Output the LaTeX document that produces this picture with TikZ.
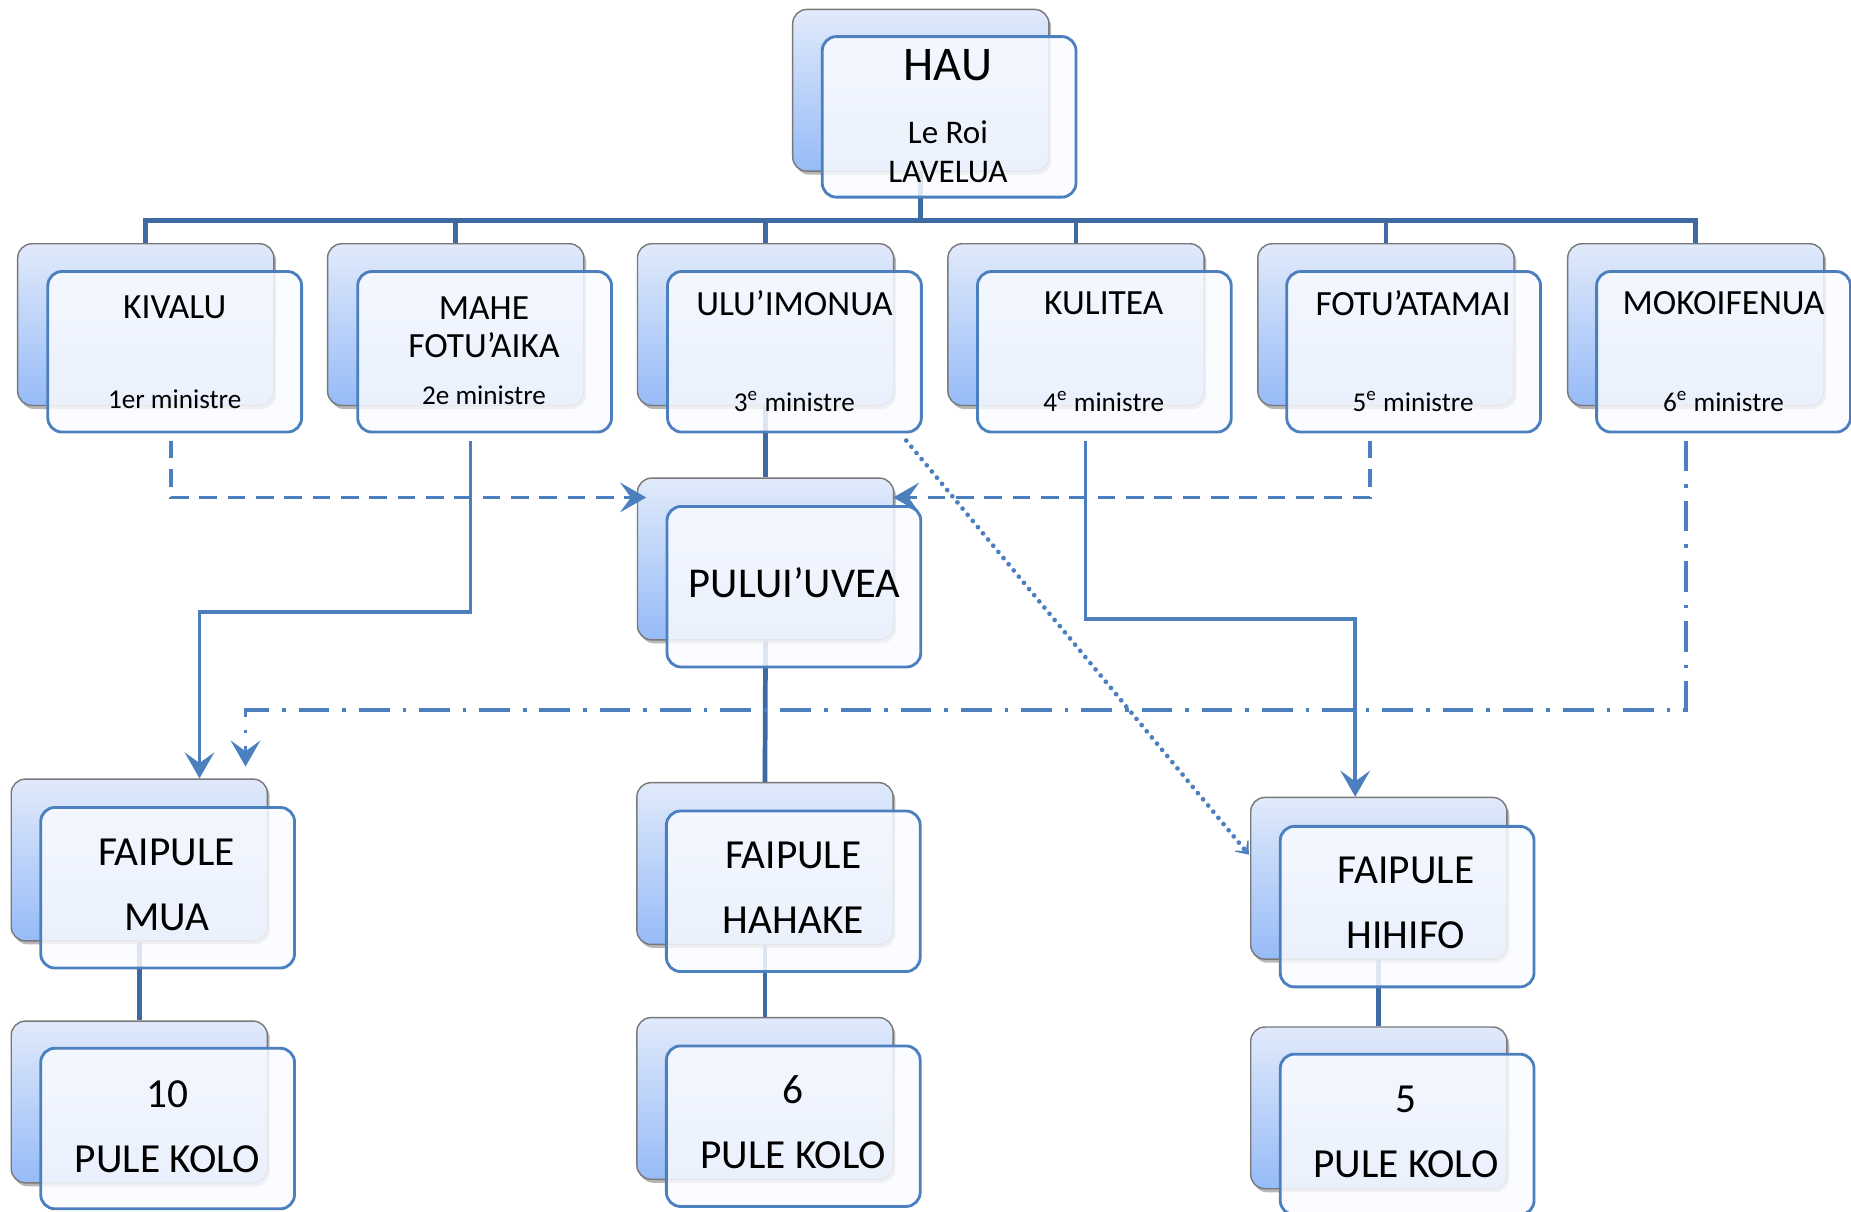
\documentclass[tikz,border=0pt]{standalone}
\usepackage{fontspec}
\setmainfont{Carlito}
\usetikzlibrary{arrows.meta,calc,positioning,shadows,backgrounds}

\definecolor{treeblue}{RGB}{62,106,164}
\definecolor{linkblue}{RGB}{76,127,190}
\definecolor{backtop}{RGB}{225,234,251}
\definecolor{backbot}{RGB}{150,187,247}
\definecolor{backline}{RGB}{120,120,120}
\definecolor{frontfill}{RGB}{249,251,255}

\tikzset{
  backbox/.style={rectangle, rounded corners=6pt, draw=backline, line width=0.6pt,
    top color=backtop, bottom color=backbot, minimum width=108.5pt,
    minimum height=68.5pt, inner sep=0pt,
    drop shadow={shadow xshift=1pt, shadow yshift=-1.5pt, opacity=0.4, fill=black!70}},
  frontbox/.style={rectangle, rounded corners=6pt, draw=linkblue, line width=1.2pt,
    fill=frontfill, fill opacity=0.85, minimum width=107.5pt, minimum height=68pt,
    inner sep=0pt},
  tree/.style={draw=treeblue, line width=2pt},
  link/.style={draw=linkblue, line width=1.6pt, -{Stealth[length=11pt, width=12.5pt, inset=4.5pt]}},
  dashlink/.style={dash pattern=on 7.5pt off 4.5pt},
  dashdotlink/.style={dash pattern=on 13pt off 5.5pt on 1.5pt off 5.5pt},
  dotlink/.style={draw=linkblue, line width=2pt, line cap=round, dash pattern=on 0pt off 3.4pt,
    -{Stealth[length=7pt, width=11pt, inset=5pt]}},
  titletext/.style={font=\fontsize{20.5}{24}\selectfont},
  subtext/.style={font=\fontsize{14}{16.5}\selectfont, align=center},
  nametext/.style={font=\fontsize{15}{16}\selectfont, align=center},
  ranktext/.style={font=\fontsize{11.5}{14}\selectfont},
  bigtext/.style={font=\fontsize{17.5}{27.5}\selectfont, align=center},
}

\begin{document}
\begin{tikzpicture}[x=0.5pt, y=-0.5pt]
   \useasboundingbox (0,0) rectangle (1568,1026);

   %hau
   \node[backbox] (haub) at (780,76.5) {};
   \node[frontbox] (hauf) at (804,99) {};
   \node[titletext] (hau) at (803,55) {HAU};
   \node[subtext] (roi) at (803,128.5) {Le Roi\\LAVELUA};

   %ministres
   \node[backbox] (kivb) at (123.5,275) {};
   \node[frontbox] (kivf) at (148,298) {};
   \node[nametext] (kivn) at (148,260) {KIVALU};
   \node[ranktext] (kivr) at (148,338) {1er ministre};

   \node[backbox] (mahb) at (386,275) {};
   \node[frontbox] (mahf) at (410.5,298) {};
   \node[nametext] (mahn) at (410,277) {MAHE\\FOTU’AIKA};
   \node[ranktext] (mahr) at (410,335) {2e ministre};

   \node[backbox] (ulub) at (648.5,275) {};
   \node[frontbox] (uluf) at (673,298) {};
   \node[nametext] (ulun) at (673,257) {ULU’IMONUA};
   \node[ranktext] (ulur) at (673,340) {3\textsuperscript{e} ministre};

   \node[backbox] (kulb) at (911.5,275) {};
   \node[frontbox] (kulf) at (935.5,298) {};
   \node[nametext] (kuln) at (935,257) {KULITEA};
   \node[ranktext] (kulr) at (935,340) {4\textsuperscript{e} ministre};

   \node[backbox] (fotb) at (1174,275) {};
   \node[frontbox] (fotf) at (1197.5,298) {};
   \node[nametext] (fotn) at (1197,257) {FOTU’ATAMAI};
   \node[ranktext] (fotr) at (1197,340) {5\textsuperscript{e} ministre};

   \node[backbox] (mokb) at (1436.5,275) {};
   \node[frontbox] (mokf) at (1460,298) {};
   \node[nametext] (mokn) at (1460,257) {MOKOIFENUA};
   \node[ranktext] (mokr) at (1460,340) {6\textsuperscript{e} ministre};

   %pului'uvea
   \node[backbox] (pulb) at (648.5,473.5) {};
   \node[frontbox] (pulf) at (672.5,497) {};
   \node[font=\fontsize{18}{21}\selectfont] (pul) at (673,494) {PULUI’UVEA};

   %faipule
   \node[backbox] (muab) at (118,728.5) {};
   \node[frontbox] (muaf) at (142,752) {};
   \node[bigtext] (mua) at (141,749.5) {FAIPULE\\MUA};

   \node[backbox] (hahb) at (648,731.5) {};
   \node[frontbox] (hahf) at (672,755) {};
   \node[bigtext] (hah) at (672,752) {FAIPULE\\HAHAKE};

   \node[backbox] (hihb) at (1168,744) {};
   \node[frontbox] (hihf) at (1192,768) {};
   \node[bigtext] (hih) at (1191,764.5) {FAIPULE\\HIHIFO};

   %pule kolo
   \node[backbox] (k10b) at (118,933.5) {};
   \node[frontbox] (k10f) at (142,956) {};
   \node[bigtext] (k10) at (142,954.5) {10\\PULE KOLO};

   \node[backbox] (k6b) at (648,930.5) {};
   \node[frontbox] (k6f) at (672,954) {};
   \node[bigtext] (k6) at (672,950.5) {6\\PULE KOLO};

   \node[backbox] (k5b) at (1168,938.5) {};
   \node[frontbox] (k5f) at (1192,961) {};
   \node[bigtext] (k5) at (1191,958.5) {5\\PULE KOLO};

   \coordinate (bar) at (780,187);

   \begin{scope}[on background layer]
     \draw[tree] (haub.south) -- (bar);
     \draw[tree] (kivb.north) |- (bar) -| (mokb.north);
     \draw[tree] (mahb.north) -- (mahb.north |- bar);
     \draw[tree] (ulub.north) -- (ulub.north |- bar);
     \draw[tree] (kulb.north) -- (kulb.north |- bar);
     \draw[tree] (fotb.north) -- (fotb.north |- bar);
     \draw[tree] (ulub.south) -- (pulb.north);
     \draw[tree] (pulb.south) -- (hahb.north);
     \draw[tree] (muab.south) -- (k10b.north);
     \draw[tree] (hahb.south) -- (k6b.north);
     \draw[tree] (hihb.south) -- (k5b.north);
   \end{scope}

   %liens
   \draw[link, dashlink] ($(kivf.south)+(-3,6)$) |- ($(pulb.north west)+(8,17)$);
   \draw[link, dashlink] ($(fotf.south)+(-37,6)$) |- ($(pulb.north east)+(-1,17)$);
   \draw[link] ($(mahf.south)+(-12,6)$) -- ++(0,145) -| ($(muab.north)+(51,0)$);
   \draw[link] ($(kulf.south)+(-16,6)$) -- ++(0,151) -| ($(hihb.north)+(-20,0)$);
   \draw[link, dashdotlink] ($(mokf.south)+(-32,6)$) -- ++(0,228) -| ($(muab.north)+(90,-10)$);
   \draw[dotlink] ($(uluf.south east)+(-14,6)$) -- ($(hihb.west)+(-1,-20)$);
\end{tikzpicture}
\end{document}
